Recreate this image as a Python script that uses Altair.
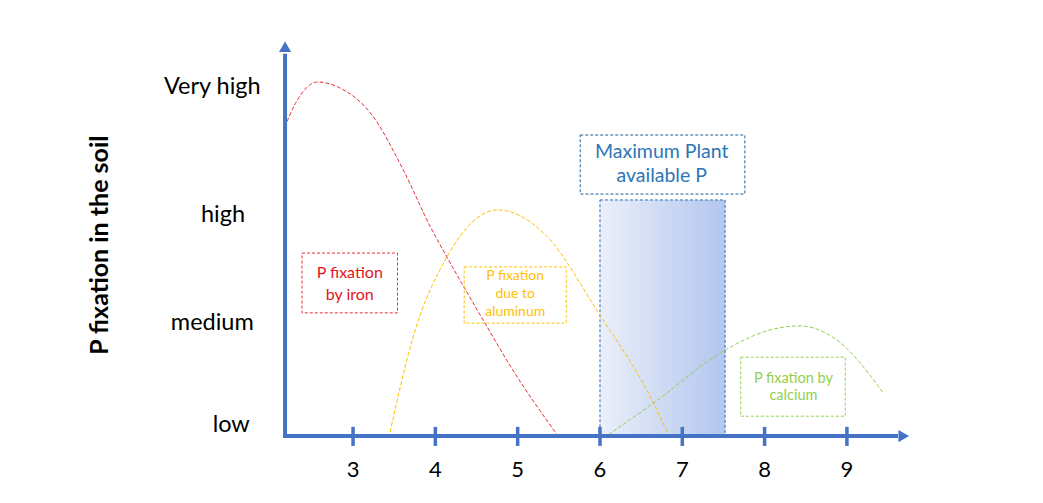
import altair as alt
import pandas as pd

# ---- data (x = soil pH, y = relative P fixation level 0..100) ----
iron_x = [2.17, 2.30, 2.57, 2.84, 3.21, 3.61, 3.94, 4.14, 4.58, 4.94, 5.48]
iron_y = [78.0, 84.0, 89.4, 87.9, 81.6, 67.2, 52.8, 45.2, 29.3, 16.7, 0.3]
al_x = [3.45, 3.73, 4.14, 4.39, 4.76, 5.36, 5.96, 6.65, 6.82]
al_y = [1.0, 25.0, 45.2, 52.8, 57.1, 50.3, 31.8, 8.3, 0.8]
ca_x = [6.10, 6.65, 7.52, 8.07, 8.43, 8.88, 9.44]
ca_y = [0.3, 8.3, 21.7, 26.8, 27.8, 24.2, 10.9]

ph_ticks = [3, 4, 5, 6, 7, 8, 9]
levels = ["low", "medium", "high", "Very high"]
level_y = [2.8, 28.5, 55.8, 88.1]
level_x = [1.52, 1.29, 1.42, 1.29]

optimum_range = [6.0, 7.52]
optimum_top = 59.6

box_names = ["iron", "aluminum", "calcium", "max"]
box_text = ["P fixation\nby iron", "P fixation\ndue to\naluminum", "P fixation by\ncalcium", "Maximum Plant\navailable P"]
box_x = [2.38, 4.35, 7.71, 5.76]
box_x2 = [3.54, 5.59, 8.98, 7.76]
box_y = [31.1, 28.5, 5.0, 61.1]
box_y2 = [46.2, 42.7, 19.9, 76.0]
box_cx = [2.96, 4.97, 8.35, 6.75]
box_first_line_y = [41.2, 40.4, 14.4, 71.7]

XMIN, XMAX = -1.192, 11.20
YMIN, YMAX = -13.13, 108.08
AXIS_X0, AXIS_X1 = 2.174, 9.62
AXIS_Y1 = 96.5

FONT = "Lato"
BLUE = "#4472c4"

xs = alt.Scale(domain=[XMIN, XMAX], nice=False, zero=False)
ys = alt.Scale(domain=[YMIN, YMAX], nice=False, zero=False)

def X(f):
    return alt.X(f, type="quantitative", scale=xs, axis=None)

def Y(f):
    return alt.Y(f, type="quantitative", scale=ys, axis=None)

curves = pd.concat([
    pd.DataFrame({"x": iron_x, "y": iron_y, "s": "iron"}),
    pd.DataFrame({"x": al_x, "y": al_y, "s": "aluminum"}),
    pd.DataFrame({"x": ca_x, "y": ca_y, "s": "calcium"}),
])
colors = {"iron": "#e8303a", "aluminum": "#ffc000", "calcium": "#92d050", "max": "#1f5f8f"}
text_colors = {"iron": "#e3141c", "aluminum": "#ffc000", "calcium": "#92d050", "max": "#2e75b6"}
text_sizes = {"iron": 16, "aluminum": 14, "calcium": 14.5, "max": 19.5}
line_heights = {"iron": 22, "aluminum": 18, "calcium": 17, "max": 24}

layers = []

# gradient optimum rectangle
opt = pd.DataFrame({"x": [optimum_range[0]], "x2": [optimum_range[1]], "y": [0], "y2": [optimum_top]})
layers.append(
    alt.Chart(opt).mark_rect(
        fill=alt.Gradient(gradient="linear",
                          stops=[alt.GradientStop(color="#eaeffa", offset=0),
                                 alt.GradientStop(color="#b3c6ee", offset=1)],
                          x1=0, x2=1, y1=0, y2=0),
        stroke="#2e6fb5", strokeDash=[3, 2], strokeWidth=1,
    ).encode(x=X("x"), x2="x2", y=Y("y"), y2="y2")
)

# curves
for s in ["iron", "aluminum", "calcium"]:
    layers.append(
        alt.Chart(curves[curves.s == s]).mark_line(
            interpolate="monotone", color=colors[s], strokeDash=[4, 2], strokeWidth=1
        ).encode(x=X("x"), y=Y("y"), order="x:Q")
    )

# boxes and texts
for i, name in enumerate(box_names):
    bd = pd.DataFrame({"x": [box_x[i]], "x2": [box_x2[i]], "y": [box_y[i]], "y2": [box_y2[i]],
                       "cx": [box_cx[i]], "cy": [box_first_line_y[i]], "t": [box_text[i]]})
    layers.append(
        alt.Chart(bd).mark_rect(fill="white", fillOpacity=0 if name != "max" else 1,
                                stroke=colors[name], strokeDash=[3, 2], strokeWidth=1)
        .encode(x=X("x"), x2="x2", y=Y("y"), y2="y2")
    )
    layers.append(
        alt.Chart(bd).mark_text(font=FONT, fontSize=text_sizes[name], color=text_colors[name],
                                lineBreak="\n", lineHeight=line_heights[name],
                                align="center", baseline="middle")
        .encode(x=X("cx"), y=Y("cy"), text="t:N")
    )

# axes lines
axl = pd.DataFrame({"x": [AXIS_X0, AXIS_X0], "x2": [AXIS_X1, AXIS_X0], "y": [0, -0.5], "y2": [0, AXIS_Y1]})
layers.append(
    alt.Chart(axl).mark_rule(color=BLUE, strokeWidth=4).encode(x=X("x"), x2="x2", y=Y("y"), y2="y2")
)
arrows = pd.DataFrame({"x": [AXIS_X1 + 0.07, AXIS_X0], "y": [0, AXIS_Y1 + 1.8],
                       "shape": ["triangle-right", "triangle-up"]})
layers.append(
    alt.Chart(arrows).mark_point(filled=True, opacity=1, size=150, color=BLUE)
    .encode(x=X("x"), y=Y("y"), shape=alt.Shape("shape:N", scale=None))
)

# ticks
tk = pd.DataFrame({"x": ph_ticks, "y": [-2.5] * len(ph_ticks), "y2": [2.3] * len(ph_ticks),
                   "ly": [-8.6] * len(ph_ticks), "t": [str(v) for v in ph_ticks]})
layers.append(
    alt.Chart(tk).mark_rule(color=BLUE, strokeWidth=3.5).encode(x=X("x"), y=Y("y"), y2="y2")
)
layers.append(
    alt.Chart(tk).mark_text(font=FONT, fontSize=22, color="black", align="center", baseline="middle")
    .encode(x=X("x"), y=Y("ly"), text="t:N")
)

# level labels
lv = pd.DataFrame({"x": level_x, "y": level_y, "t": levels})
layers.append(
    alt.Chart(lv).mark_text(font=FONT, fontSize=23.5, color="black", align="center", baseline="middle")
    .encode(x=X("x"), y=Y("y"), text="t:N")
)

# axis title
ttl = pd.DataFrame({"x": [-0.074], "y": [48.2], "t": ["P fixation in the soil"]})
layers.append(
    alt.Chart(ttl).mark_text(font=FONT, fontSize=25, fontWeight="bold", color="black",
                             angle=270, align="center", baseline="middle")
    .encode(x=X("x"), y=Y("y"), text="t:N")
)

chart = alt.layer(*layers).properties(
    width=1020, height=480, padding=0, autosize="none"
).configure_view(stroke=None)

chart.save("out.html", embed_options={"renderer": "svg", "actions": False})
